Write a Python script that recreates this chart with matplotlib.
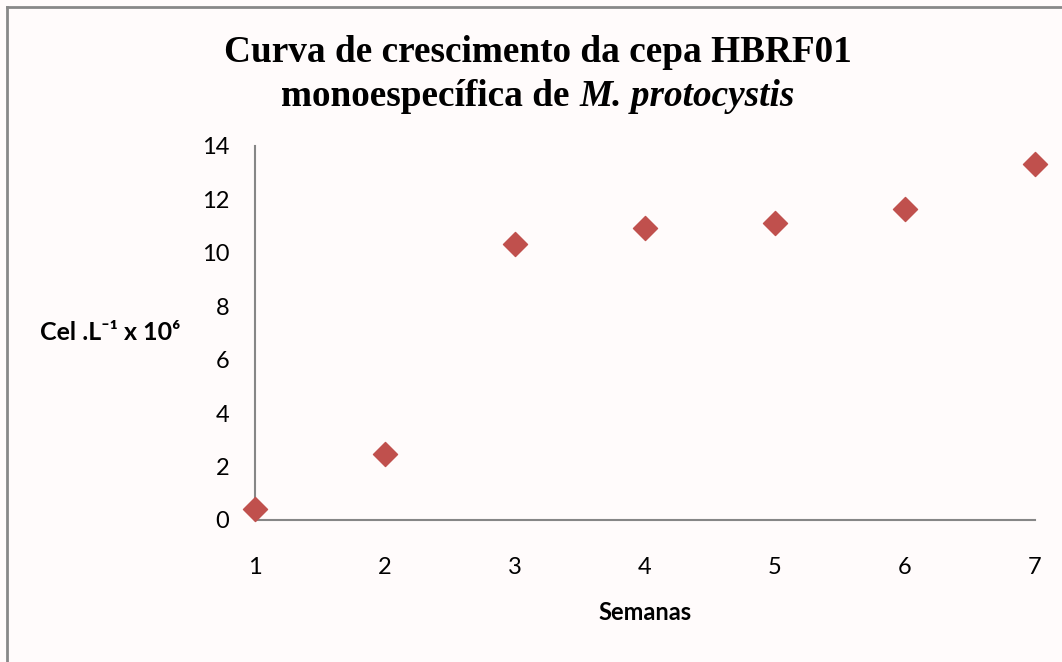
import matplotlib
matplotlib.use('Agg')
import matplotlib.pyplot as plt
from matplotlib.lines import Line2D

semanas = [1, 2, 3, 4, 5, 6, 7]
celulas = [0.41, 2.47, 10.33, 10.93, 11.12, 11.64, 13.33]

fam = ['Lato', 'DejaVu Sans']
bg = '#fffbfb'
fig = plt.figure(figsize=(10.62, 6.62), dpi=100, facecolor=bg)
ax = fig.add_axes([255/1062, 1 - 520/662, 780/1062, 374/662])
ax.set_facecolor(bg)

ax.scatter(semanas, celulas, marker='D', s=150, color='#c0504d', zorder=5, clip_on=False)

ax.set_xlim(1, 7)
ax.set_ylim(0, 14)
ax.set_xticks(semanas)
ax.set_yticks(range(0, 15, 2))
for s in ['top', 'right']:
    ax.spines[s].set_visible(False)
for s in ['left', 'bottom']:
    ax.spines[s].set_color('#868686')
    ax.spines[s].set_linewidth(1.5)
ax.tick_params(length=0, labelsize=17, colors='black')
ax.tick_params(axis='y', pad=18.5)
ax.tick_params(axis='x', pad=26.5)
for lab in ax.get_xticklabels() + ax.get_yticklabels():
    lab.set_family(fam)

tkw = dict(va='center', family='Liberation Serif', weight='bold', fontsize=26.8)
fig.text(538/1062, 1 - 53/662, 'Curva de crescimento da cepa HBRF01', ha='center', **tkw)

# second title line: regular + italic part, centred together
r = fig.canvas.get_renderer()
y2 = 1 - 96/662
p1 = fig.text(0, y2, 'monoespecífica de ', ha='left', **tkw)
p2 = fig.text(0, y2, 'M. protocystis', ha='left', style='italic', **tkw)
w1 = p1.get_window_extent(r).width / 1062
w2 = p2.get_window_extent(r).width / 1062
x0 = 538/1062 - (w1 + w2) / 2
p1.set_x(x0)
p2.set_x(x0 + w1)

fig.text(40/1062, 1 - 332/662, 'Cel .L\u207b\u00b9 x 10\u2076', ha='left', va='center',
         family=fam, weight='bold', fontsize=18)
fig.text(645/1062, 1 - 613/662, 'Semanas', ha='center', va='center',
         family=fam, weight='bold', fontsize=17)

# chart border (left and top edges visible)
fig.add_artist(Line2D([6.5/1062, 6.5/1062], [0, 1 - 6.5/662], transform=fig.transFigure,
                      color='#888888', linewidth=2))
fig.add_artist(Line2D([6.5/1062, 1], [1 - 6.5/662, 1 - 6.5/662], transform=fig.transFigure,
                      color='#888888', linewidth=2))

fig.savefig('out.png', dpi=100, facecolor=bg)
